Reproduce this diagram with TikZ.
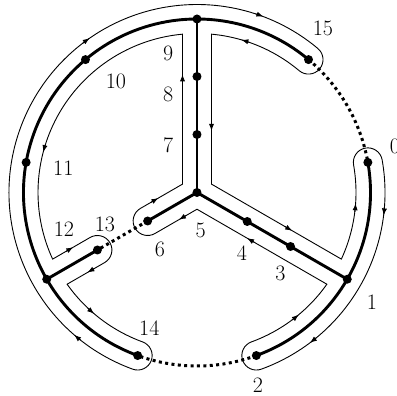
\documentclass[tikz,border=0pt]{standalone}
\usetikzlibrary{arrows.meta,calc}
\begin{document}
\begin{tikzpicture}[x=1pt,y=1pt,
  thickline/.style={line width=2.9pt},
  dotline/.style={line width=3pt, dash pattern=on 3pt off 3.4pt},
  contour/.style={line width=0.9pt, line join=miter},
  tip/.style={line width=0.9pt, -{Latex[length=7pt,width=5.2pt]}},
  dotmark/.style={circle, fill, inner sep=0pt, minimum size=9pt},
  lab/.style={font=\fontsize{22}{26}\selectfont, inner sep=0pt}]
\useasboundingbox (-197,-203.5) rectangle (200,192.5);
\def\R{173.5}\def\d{14.5}\def\Ri{159}\def\Ro{188}\def\del{5.23}
% tree points
\coordinate (hub) at (0,0);
\coordinate (top) at (90:\R);
\coordinate (t1) at (90:58);
\coordinate (t2) at (90:116);
\coordinate (r1) at (-30:58);
\coordinate (r2) at (-30:108);
\coordinate (rr) at (-30:\R);
\coordinate (l1) at (210:57);
\coordinate (l2) at (210:115);
\coordinate (ll) at (210:\R);
\coordinate (n0) at (10:\R);
\coordinate (n2) at (-70:\R);
\coordinate (n14) at (250:\R);
\coordinate (n11) at (170:\R);
\coordinate (n10) at (130:\R);
\coordinate (n15) at (50:\R);
% contour corner points
\coordinate (c1) at (30:16.74);
\coordinate (c2) at (270:16.74);
\coordinate (c3) at (150:16.74);
\coordinate (kT1) at ({90-\del}:\Ri);
\coordinate (kT2) at ({90+\del}:\Ri);
\coordinate (kR1) at ({-30+\del}:\Ri);
\coordinate (kR2) at ({-30-\del}:\Ri);
\coordinate (kL1) at ({210-\del}:\Ri);
\coordinate (kL2) at ({210+\del}:\Ri);
\coordinate (s6a) at ($(l1)+(300:\d)$);
\coordinate (s6b) at ($(l1)+(120:\d)$);
\coordinate (s13a) at ($(l2)+(120:\d)$);
\coordinate (s13b) at ($(l2)+(300:\d)$);
% thick tree
\draw[thickline] (hub) -- (top);
\draw[thickline] (hub) -- (rr);
\draw[thickline] (hub) -- (l1);
\draw[thickline] (l2) -- (ll);
\draw[thickline] (n0) arc[start angle=10, end angle=-70, radius=\R];
\draw[thickline] (n14) arc[start angle=250, end angle=50, radius=\R];
% dotted parts
\draw[dotline] (n15) arc[start angle=50, end angle=10, radius=\R];
\draw[dotline] (n2) arc[start angle=-70, end angle=-110, radius=\R];
\draw[dotline] (l1) -- (l2);
% contour
\draw[contour] (50:\Ri) arc[start angle=50, end angle={90-\del}, radius=\Ri]
  -- (c1) -- (kR1)
  arc[start angle={-30+\del}, end angle=10, radius=\Ri]
  arc[start angle=190, end angle=10, radius=\d]
  arc[start angle=10, end angle=-70, radius=\Ro]
  arc[start angle=-70, end angle=-250, radius=\d]
  arc[start angle=-70, end angle={-30-\del}, radius=\Ri]
  -- (c2) -- (s6a)
  arc[start angle=300, end angle=120, radius=\d]
  -- (c3) -- (kT2)
  arc[start angle={90+\del}, end angle={210-\del}, radius=\Ri]
  -- (s13a)
  arc[start angle=120, end angle=-60, radius=\d]
  -- (kL2)
  arc[start angle={210+\del}, end angle=250, radius=\Ri]
  arc[start angle=70, end angle=-110, radius=\d]
  arc[start angle=250, end angle=50, radius=\Ro]
  arc[start angle=50, end angle=-130, radius=\d]
  -- cycle;
% arrows on arcs
\draw[tip] (70.7:\Ri) arc[start angle=70.7, end angle=73.8, radius=\Ri];
\draw[tip] (-7:\Ri) arc[start angle=-7, end angle=-3.9, radius=\Ri];
\draw[tip] (-4.4:\Ro) arc[start angle=-4.4, end angle=-7, radius=\Ro];
\draw[tip] (-50.5:\Ro) arc[start angle=-50.5, end angle=-53.1, radius=\Ro];
\draw[tip] (-53.3:\Ri) arc[start angle=-53.3, end angle=-50.2, radius=\Ri];
\draw[tip] (162.2:\Ri) arc[start angle=162.2, end angle=165.3, radius=\Ri];
\draw[tip] (226.6:\Ri) arc[start angle=226.6, end angle=229.7, radius=\Ri];
\draw[tip] (231.8:\Ro) arc[start angle=231.8, end angle=229.2, radius=\Ro];
\draw[tip] (127.4:\Ro) arc[start angle=127.4, end angle=124.8, radius=\Ro];
\draw[tip] (71.9:\Ro) arc[start angle=71.9, end angle=69.3, radius=\Ro];
% arrows on straight parts
\draw[tip] ($(kT1)!0.587!(c1)$) -- ($(kT1)!0.645!(c1)$);
\draw[tip] ($(c1)!0.563!(kR1)$) -- ($(c1)!0.622!(kR1)$);
\draw[tip] ($(kR2)!0.557!(c2)$) -- ($(kR2)!0.615!(c2)$);
\draw[tip] ($(c2)!0.253!(s6a)$) -- ($(c2)!0.43!(s6a)$);
\draw[tip] ($(s6b)!0.25!(c3)$) -- ($(s6b)!0.428!(c3)$);
\draw[tip] ($(c3)!0.673!(kT2)$) -- ($(c3)!0.732!(kT2)$);
\draw[tip] ($(kL1)!0.355!(s13a)$) -- ($(kL1)!0.55!(s13a)$);
\draw[tip] ($(s13b)!0.265!(kL2)$) -- ($(s13b)!0.46!(kL2)$);
% dots
\foreach \p in {hub,top,t1,t2,r1,r2,rr,l1,l2,ll,n0,n2,n14,n11,n10,n15}
  \node[dotmark] (d\p) at (\p) {};
% labels
\node[lab] (L0) at (198,45.8) {0};
\node[lab] (L1) at (175,-110.2) {1};
\node[lab] (L2) at (61,-192.5) {2};
\node[lab] (L3) at (83.3,-80.8) {3};
\node[lab] (L4) at (45,-60.2) {4};
\node[lab] (L5) at (3.7,-37.5) {5};
\node[lab] (L6) at (-37,-56.8) {6};
\node[lab] (L7) at (-28.7,46.8) {7};
\node[lab] (L8) at (-28.7,98.2) {8};
\node[lab] (L9) at (-28.7,139.2) {9};
\node[lab] (L10) at (-81,110.8) {10};
\node[lab] (L11) at (-133.7,24.2) {11};
\node[lab] (L12) at (-133,-36.8) {12};
\node[lab] (L13) at (-92,-31.8) {13};
\node[lab] (L14) at (-47.7,-135.2) {14};
\node[lab] (L15) at (126,164.2) {15};
\end{tikzpicture}
\end{document}
